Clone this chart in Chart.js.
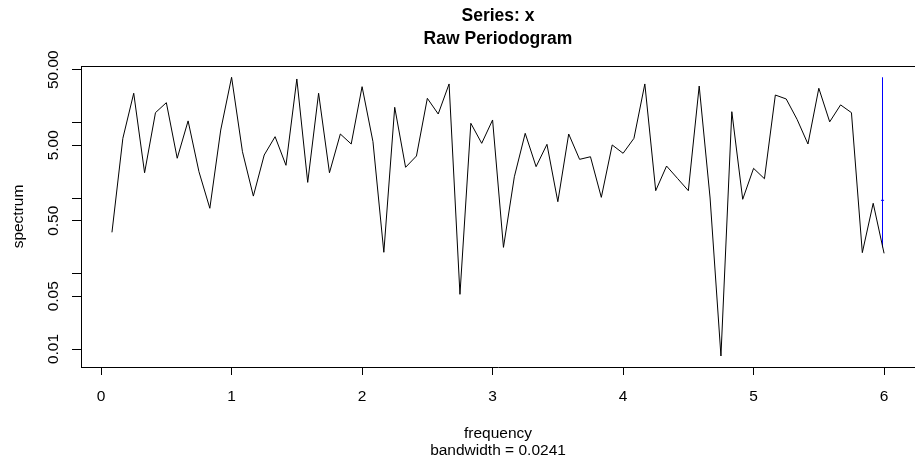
<!DOCTYPE html>
<html>
<head>
<meta charset="utf-8">
<title>Raw Periodogram</title>
<script src="https://cdn.jsdelivr.net/npm/chart.js@4.4.0/dist/chart.umd.min.js"></script>
<style>
  html, body { margin: 0; padding: 0; background: #fff; }
  canvas { display: block; }
</style>
</head>
<body>
<canvas id="specChart" width="915" height="460"></canvas>
<script>
// ── Data ──────────────────────────────────────────────────
const freq = [
  0.0833, 0.1667, 0.25, 0.3333, 0.4167, 0.5, 0.5833, 0.6667, 0.75, 0.8333, 0.9167, 1,
  1.0833, 1.1667, 1.25, 1.3333, 1.4167, 1.5, 1.5833, 1.6667, 1.75, 1.8333, 1.9167, 2,
  2.0833, 2.1667, 2.25, 2.3333, 2.4167, 2.5, 2.5833, 2.6667, 2.75, 2.8333, 2.9167, 3,
  3.0833, 3.1667, 3.25, 3.3333, 3.4167, 3.5, 3.5833, 3.6667, 3.75, 3.8333, 3.9167, 4,
  4.0833, 4.1667, 4.25, 4.3333, 4.4167, 4.5, 4.5833, 4.6667, 4.75, 4.8333, 4.9167, 5,
  5.0833, 5.1667, 5.25, 5.3333, 5.4167, 5.5, 5.5833, 5.6667, 5.75, 5.8333, 5.9167, 6
];
const spectrum = [
  0.351, 6.17, 24.4, 2.16, 13.5, 18.3, 3.36, 10.5, 2.23, 0.731, 7.95, 39.7,
  4.10, 1.06, 3.71, 6.49, 2.71, 37.7, 1.61, 24.4, 2.16, 7.04, 5.19, 29.8,
  5.57, 0.191, 15.9, 2.55, 3.60, 20.9, 12.96, 32.4, 0.053, 9.76, 5.30, 10.8,
  0.222, 1.91, 7.19, 2.60, 5.14, 0.893, 7.04, 3.25, 3.52, 1.02, 5.04, 3.91,
  6.17, 32.4, 1.25, 2.65, 1.82, 1.25, 30.4, 1.0, 0.00808, 13.9, 0.961, 2.47,
  1.80, 23.1, 20.5, 11.0, 5.19, 28.4, 10.2, 17.1, 13.5, 0.189, 0.851, 0.185
];

// confidence bar (blue) near the right edge
const bandwidth = 0.0241;
const ciX = [5.988, 5.988];
const ciY = [0.222, 39.7];
const ciTickX = [5.976, 6.000];
const ciTickY = [0.932, 0.932];

const xTicks = [0, 1, 2, 3, 4, 5, 6];
const yTicks = [0.01, 0.05, 0.1, 0.5, 1, 5, 10, 50];
const yLabels = { 0.01: '0.01', 0.05: '0.05', 0.5: '0.50', 5: '5.00', 50: '50.00' };

const FONT = '"Liberation Sans", Arial, Helvetica, sans-serif';
const LABEL_PX = 15.5;

// ── Text / frame drawn on top of the chart ────────────────
const rDecor = {
  id: 'rDecor',
  afterDraw(chart) {
    const { ctx, chartArea } = chart;
    const yScale = chart.scales.y;
    const cx = (chartArea.left + chartArea.right) / 2;
    const cy = (chartArea.top + chartArea.bottom) / 2;
    ctx.save();

    // top edge of the box
    ctx.strokeStyle = '#000';
    ctx.lineWidth = 1;
    ctx.beginPath();
    ctx.moveTo(chartArea.left, Math.round(chartArea.top) + 0.5);
    ctx.lineTo(chartArea.right, Math.round(chartArea.top) + 0.5);
    ctx.stroke();

    ctx.fillStyle = '#000';
    ctx.textAlign = 'center';
    ctx.textBaseline = 'alphabetic';
    ctx.font = 'bold 17.5px ' + FONT;
    ctx.fillText('Series: x', cx, 20.5);
    ctx.fillText('Raw Periodogram', cx, 44);

    ctx.font = LABEL_PX + 'px ' + FONT;
    ctx.fillText('frequency', cx, 438);
    ctx.fillText('bandwidth = ' + bandwidth, cx, 455);

    // rotated y tick labels
    ctx.textBaseline = 'middle';
    yTicks.forEach(v => {
      if (!yLabels[v]) return;
      const py = yScale.getPixelForValue(v);
      ctx.save();
      ctx.translate(54, py);
      ctx.rotate(-Math.PI / 2);
      ctx.fillText(yLabels[v], 0, 0);
      ctx.restore();
    });

    ctx.save();
    ctx.translate(18.5, cy);
    ctx.rotate(-Math.PI / 2);
    ctx.fillText('spectrum', 0, 0);
    ctx.restore();

    ctx.restore();
  }
};

new Chart(document.getElementById('specChart'), {
  type: 'line',
  data: {
    datasets: [
      {
        data: freq.map((f, i) => ({ x: f, y: spectrum[i] })),
        borderColor: '#000',
        borderWidth: 1,
        pointRadius: 0,
        tension: 0,
      },
      {
        data: ciX.map((f, i) => ({ x: f, y: ciY[i] })),
        borderColor: '#0000ff',
        borderWidth: 1,
        pointRadius: 0,
      },
      {
        data: ciTickX.map((f, i) => ({ x: f, y: ciTickY[i] })),
        borderColor: '#0000ff',
        borderWidth: 1,
        pointRadius: 0,
      }
    ]
  },
  options: {
    responsive: false,
    devicePixelRatio: 1,
    animation: false,
    layout: { padding: { top: 66, right: 0, left: 0, bottom: 0 } },
    plugins: {
      legend: { display: false },
      tooltip: { enabled: false },
      title: { display: false },
    },
    scales: {
      x: {
        type: 'linear',
        min: -0.154,
        max: 6.237,
        afterBuildTicks(scale) { scale.ticks = xTicks.map(v => ({ value: v })); },
        afterFit(scale) { scale.height = 93; },
        ticks: {
          color: '#000',
          padding: 12,
          font: { size: LABEL_PX, family: FONT },
          maxRotation: 0,
          callback: v => String(v),
        },
        grid: { drawOnChartArea: false, drawTicks: true, tickLength: 8, color: '#000', lineWidth: 1 },
        border: { display: true, color: '#000', width: 1 },
      },
      y: {
        type: 'logarithmic',
        min: 0.00578,
        max: 56,
        afterBuildTicks(scale) { scale.ticks = yTicks.map(v => ({ value: v })); },
        afterFit(scale) { scale.width = 81; },
        ticks: { display: false },
        grid: { drawOnChartArea: false, drawTicks: true, tickLength: 9, color: '#000', lineWidth: 1 },
        border: { display: true, color: '#000', width: 1 },
      }
    }
  },
  plugins: [rDecor]
});
</script>
</body>
</html>
